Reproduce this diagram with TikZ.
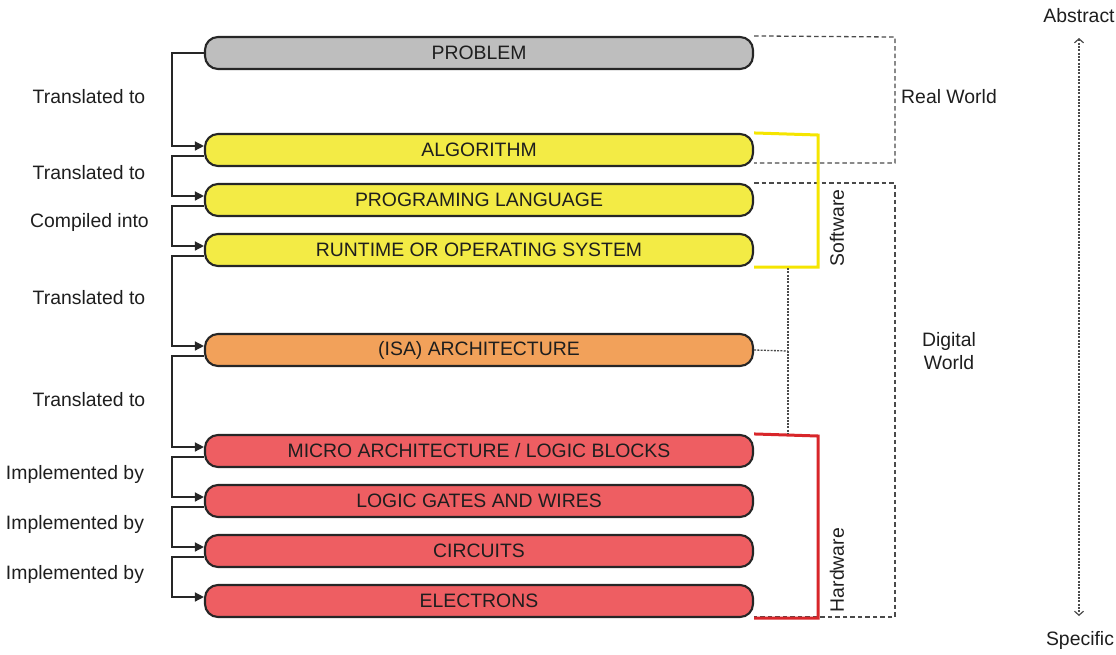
\documentclass[tikz,border=0pt]{standalone}
\usepackage{fontspec}
\setmainfont{Liberation Sans}
\usetikzlibrary{arrows.meta}
\definecolor{bordc}{HTML}{262626}
\definecolor{grayfill}{HTML}{BEBEBE}
\definecolor{yelfill}{HTML}{F3EB45}
\definecolor{orafill}{HTML}{F2A15A}
\definecolor{redfill}{HTML}{EE5E62}
\definecolor{yelline}{HTML}{F5E500}
\definecolor{redline}{HTML}{D8262A}
\definecolor{txtc}{HTML}{1E1E1E}
\definecolor{dashc}{HTML}{4A4A4A}
\tikzset{
  layerbox/.style={draw=bordc, line width=2.1pt, rounded corners=13pt,
    minimum width=548pt, minimum height=32pt, inner sep=0pt,
    text=txtc, font=\fontsize{19.4}{22}\selectfont},
  conn/.style={draw=bordc, line width=1.4pt, -{Triangle[length=9pt,width=9pt]}},
  lbl/.style={text=txtc, font=\fontsize{19.4}{23}\selectfont, inner sep=0pt},
  dashline/.style={draw=dashc, line width=1.3pt, dash pattern=on 4.5pt off 3pt},
  dotline/.style={draw=dashc, line width=1.3pt, dash pattern=on 2pt off 1.3pt},
  brackety/.style={draw=yelline, line width=3pt},
  bracketr/.style={draw=redline, line width=3pt},
}
\begin{document}
\begin{tikzpicture}[x=1pt,y=-1pt]
\useasboundingbox (0,0) rectangle (1116,654);
% boxes
\node[layerbox, fill=grayfill] (prob) at (479,53) {PROBLEM};
\node[layerbox, fill=yelfill] (alg) at (479,150) {ALGORITHM};
\node[layerbox, fill=yelfill] (prog) at (479,200) {PROGRAMING LANGUAGE};
\node[layerbox, fill=yelfill] (run) at (479,250) {RUNTIME OR OPERATING SYSTEM};
\node[layerbox, fill=orafill] (isa) at (479,350) {(ISA) ARCHITECTURE};
\node[layerbox, fill=redfill] (micro) at (479,451) {MICRO ARCHITECTURE / LOGIC BLOCKS};
\node[layerbox, fill=redfill] (gates) at (479,501) {LOGIC GATES AND WIRES};
\node[layerbox, fill=redfill] (circ) at (479,551) {CIRCUITS};
\node[layerbox, fill=redfill] (elec) at (479,601) {ELECTRONS};
% connectors
\draw[conn] (prob.west) -- ++(-32,0) |- ([yshift=4pt]alg.west);
\foreach \a/\b in {alg/prog, prog/run, run/isa, isa/micro, micro/gates, gates/circ, circ/elec}{
  \draw[conn] ([yshift=-6pt]\a.west) -- ++(-32,0) |- ([yshift=4pt]\b.west);
}
% left labels
\node[lbl] (l1) at (89,97) {Translated to};
\node[lbl] (l2) at (89,173) {Translated to};
\node[lbl] (l3) at (89.5,222) {Compiled into};
\node[lbl] (l4) at (89,298) {Translated to};
\node[lbl] (l5) at (89,400) {Translated to};
\node[lbl] (l6) at (75,474) {Implemented by};
\node[lbl] (l7) at (75,524) {Implemented by};
\node[lbl] (l8) at (75,574) {Implemented by};
% real world bracket
\draw[dashline] (prob.north east) -- (895,37) -- (895,163) -- (alg.south east |- 0,163);
\node[lbl, anchor=west] (rw) at (901,97) {Real World};
% digital world bracket
\draw[dashline] (prog.north east |- 0,183) -- (895,183) -- (895,617) -- (elec.south east |- 0,617);
\node[lbl, align=center] (dw) at (949,351) {Digital\\World};
% software / hardware brackets
\draw[brackety] (alg.north east) -- (818,135) |- (run.south east);
\draw[bracketr] (micro.north east) -- (818,436) |- (elec.south east);
\node[lbl, rotate=90] (sw) at (837,228) {Software};
\node[lbl, rotate=90] (hw) at (837,570) {Hardware};
% dotted link
\draw[dotline] (788,268) -- (788,434);
\draw[dotline] (isa.east) -- (788,351);
% abstract / specific
\node[lbl] (abs) at (1079,16) {Abstract};
\node[lbl] (spec) at (1080,640) {Specific};
\draw[dotline, line width=1.2pt, {Straight Barb[length=4pt,width=9pt,line width=1.2pt]}-{Straight Barb[length=4pt,width=9pt,line width=1.2pt]}] (1079,38) -- (1079,616);
\end{tikzpicture}
\end{document}
